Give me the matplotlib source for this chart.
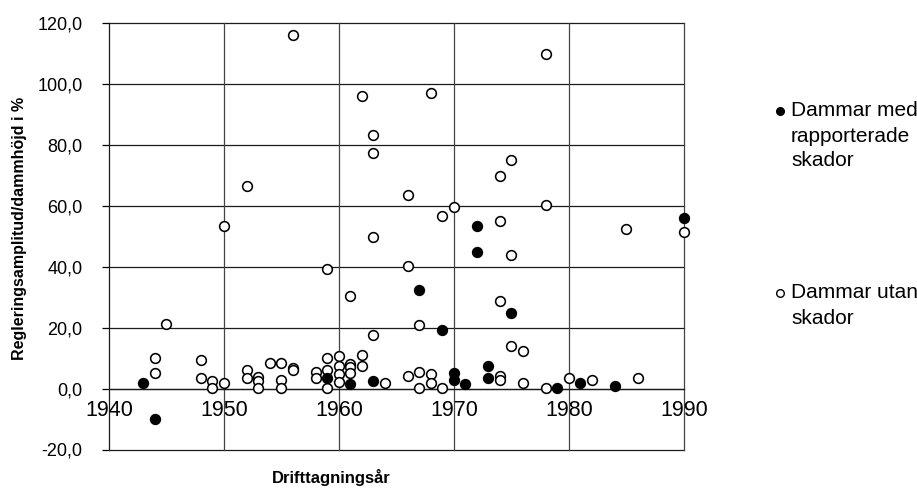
import matplotlib
matplotlib.use("Agg")
import matplotlib.pyplot as plt
from matplotlib.lines import Line2D

plt.rcParams['font.family'] = ['Liberation Sans', 'DejaVu Sans']

# Dams with reported damage (filled)
med_year = [1943, 1944, 1959, 1961, 1963, 1967, 1969, 1970, 1970, 1971,
            1972, 1972, 1973, 1973, 1975, 1979, 1981, 1984, 1990]
med_val = [1.8, -10.0, 3.4, 1.4, 2.4, 32.4, 19.4, 5.2, 2.9, 1.5,
           53.4, 45.0, 7.3, 3.5, 25.0, 0.3, 1.8, 0.9, 56.1]

# Dams without damage (open)
utan_year = [1944, 1944, 1945, 1948, 1948, 1949, 1949, 1950, 1950,
             1952, 1952, 1952, 1953, 1953, 1953, 1954, 1955, 1955, 1955,
             1956, 1956, 1956, 1958, 1958, 1959, 1959, 1959, 1959,
             1960, 1960, 1960, 1960, 1961, 1961, 1961, 1961,
             1962, 1962, 1962, 1963, 1963, 1963, 1963, 1964,
             1966, 1966, 1966, 1967, 1967, 1967, 1968, 1968, 1968,
             1969, 1969, 1970, 1974, 1974, 1974, 1974, 1974,
             1975, 1975, 1975, 1976, 1976, 1978, 1978, 1978,
             1980, 1982, 1985, 1986, 1990]
utan_val = [9.9, 5.1, 21.3, 9.3, 3.4, 2.5, 0.2, 53.4, 1.9,
            66.5, 6.2, 3.4, 3.9, 2.5, 0.2, 8.3, 8.3, 2.8, 0.2,
            116.0, 6.8, 6.2, 5.6, 3.4, 39.2, 9.9, 6.2, 0.2,
            10.7, 7.4, 4.9, 2.3, 30.4, 8.0, 7.2, 5.2,
            96.0, 11.0, 7.4, 83.3, 77.5, 49.8, 17.6, 1.9,
            63.5, 40.3, 4.1, 20.8, 5.6, 0.2, 97.0, 4.7, 2.0,
            56.6, 0.2, 59.8, 69.8, 55.0, 28.8, 4.1, 2.9,
            75.0, 44.0, 14.1, 12.4, 2.0, 109.8, 60.3, 0.3,
            3.4, 2.9, 52.4, 3.5, 51.3]

xticks = [1940, 1950, 1960, 1970, 1980, 1990]
yticks = [-20, 0, 20, 40, 60, 80, 100, 120]
ytick_labels = ["-20,0", "0,0", "20,0", "40,0", "60,0", "80,0", "100,0", "120,0"]

legend_med = ["Dammar med", "rapporterade", "skador"]
legend_utan = ["Dammar utan", "skador"]

W, H = 917, 491
fig = plt.figure(figsize=(W / 100, H / 100), dpi=100)
left, right, top, bottom = 109, 684, 23.3, 449.5
ax = fig.add_axes([left / W, 1 - bottom / H, (right - left) / W, (bottom - top) / H])

ax.set_xlim(1940, 1990)
ax.set_ylim(-20, 120)

# grid
for yv in yticks:
    ax.axhline(yv, color='#1a1a1a', lw=0.9, zorder=1, clip_on=False)
for xv in xticks[1:]:
    ax.axvline(xv, color='#444444', lw=0.9, zorder=1, clip_on=False)

ax.plot(utan_year, utan_val, linestyle='none', marker='o', ms=7.0,
        mfc='white', mec='black', mew=1.15, zorder=3, clip_on=False)
ax.plot(med_year, med_val, linestyle='none', marker='o', ms=7.0,
        mfc='black', mec='black', mew=1.15, zorder=4, clip_on=False)

ax.spines['top'].set_visible(False)
ax.spines['right'].set_visible(False)
ax.spines['bottom'].set_position(('data', 0))
ax.spines['bottom'].set_color('#1a1a1a')
ax.spines['left'].set_color('#1a1a1a')
ax.spines['bottom'].set_linewidth(0.9)
ax.spines['left'].set_linewidth(0.9)

ax.set_xticks(xticks)
ax.set_xticklabels([str(v) for v in xticks])
ax.set_yticks(yticks)
ax.set_yticklabels(ytick_labels)
ax.tick_params(axis='x', length=0, pad=8, labelsize=15.5)
ax.tick_params(axis='y', length=5, width=0.9, pad=14, labelsize=13, direction='out')

fig.text(20 / W, 1 - 228 / H, "Regleringsamplitud/dammhöjd i %", rotation=90,
         ha='center', va='center', fontsize=11.5, fontweight='bold')
fig.text(331 / W, 1 - 478 / H, "Drifttagningsår", ha='center', va='center',
         fontsize=12, fontweight='bold')

# legend (manual)
leg_fs = 15
line_step = 25


def legend_block(y0, lines, face):
    fig.add_artist(Line2D([780 / W], [1 - (y0 + 2) / H], marker='o', ms=5.5, mfc=face,
                          mec='black', mew=1.0, linestyle='none',
                          transform=fig.transFigure))
    for i, t in enumerate(lines):
        fig.text(791 / W, 1 - (y0 + i * line_step) / H, t, ha='left',
                 va='center_baseline', fontsize=leg_fs)


legend_block(109, legend_med, 'black')
legend_block(291, legend_utan, 'white')

fig.savefig("out.png", dpi=100)
